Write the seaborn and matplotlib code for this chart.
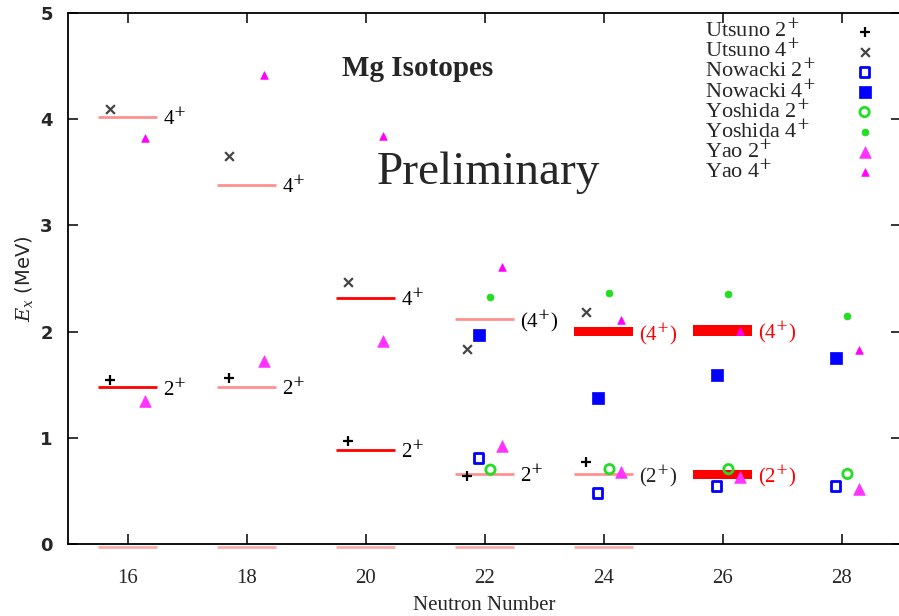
import matplotlib
matplotlib.use("Agg")
import matplotlib.pyplot as plt
import matplotlib.transforms as mtransforms
import seaborn as sns
import numpy as np

# ---------------- data ----------------
neutron_ticks = [16, 18, 20, 22, 24, 26, 28]

# experimental levels
exp_N = [16, 18, 20, 22, 24, 26]
exp_2 = [1.474, 1.483, 0.885, 0.660, 0.660, 0.655]
exp_4 = [4.02, 3.38, 2.32, 2.12, 2.00, 2.01]
exp_2_err = [0, 0, 0, 0, 0, 0.045]
exp_4_err = [0, 0, 0, 0, 0.04, 0.05]
exp_2_labels = ["2$^{+}$", "2$^{+}$", "2$^{+}$", "2$^{+}$", "(2$^{+}$)", "(2$^{+}$)"]
exp_4_labels = ["4$^{+}$", "4$^{+}$", "4$^{+}$", "(4$^{+}$)", "(4$^{+}$)", "(4$^{+}$)"]
ground_N = [16, 18, 20, 22, 24]
ground_E = [0, 0, 0, 0, 0]

# theory
utsuno_N = [16, 18, 20, 22, 24]
utsuno_2 = [1.54, 1.56, 0.97, 0.64, 0.77]
utsuno_4 = [4.10, 3.65, 2.47, 1.84, 2.18]

nowacki_N = [22, 24, 26, 28]
nowacki_2 = [0.81, 0.48, 0.545, 0.545]
nowacki_4 = [1.97, 1.375, 1.59, 1.75]

yoshida_N = [22, 24, 26, 28]
yoshida_2 = [0.70, 0.705, 0.705, 0.66]
yoshida_4 = [2.33, 2.36, 2.35, 2.15]

yao_N = [16, 18, 20, 22, 24, 26, 28]
yao_2 = [1.35, 1.72, 1.91, 0.92, 0.68, 0.63, 0.52]
yao_4 = [3.82, 4.42, 3.84, 2.61, 2.11, 2.01, 1.83]

# ---------------- style ----------------
RED = "#ff0000"
PINK = "#ff9090"
exp_2_col = [RED, PINK, RED, PINK, PINK, RED]
exp_4_col = [PINK, PINK, RED, PINK, RED, RED]
exp_2_txtcol = ["black", "black", "black", "black", "#222222", RED]
exp_4_txtcol = ["black", "black", "black", "black", RED, RED]
offsets = {"Utsuno": -0.3, "Nowacki": -0.1, "Yoshida": 0.1, "Yao": 0.3}

sns.set_theme(style="ticks")
plt.rcParams["font.family"] = ["Liberation Serif", "DejaVu Serif"]
plt.rcParams["mathtext.fontset"] = "dejavuserif"

fig = plt.figure(figsize=(8.99, 6.16), dpi=100)
ax = fig.add_axes([68 / 899, 1 - 544 / 616, (901 - 68) / 899, (544 - 13) / 616])

# experimental levels
half = 0.5
for N, E, err, col in zip(exp_N + exp_N, exp_2 + exp_4, exp_2_err + exp_4_err,
                          exp_2_col + exp_4_col):
    if err > 0:
        ax.bar(N, 2 * err, bottom=E - err, width=2 * half, color=col,
               linewidth=0, zorder=2)
    else:
        ax.hlines(E, N - half, N + half, colors=col, linewidth=2.0, zorder=2)
below = mtransforms.offset_copy(ax.transData, fig=fig, y=-2.5, units="dots")
ax.hlines(ground_E, np.array(ground_N) - half, np.array(ground_N) + half,
          colors="#ffaaaa", linewidth=2.0, zorder=1, clip_on=False, transform=below)

for N, E, lab, tc in zip(exp_N + exp_N, exp_2 + exp_4, exp_2_labels + exp_4_labels,
                         exp_2_txtcol + exp_4_txtcol):
    ax.text(N + 0.6, E - 0.02, lab, color=tc, fontsize=15, ha="left", va="center")

def scat(N, E, off, label, marker, color, size, lw=1.5, hollow=False):
    sns.scatterplot(x=np.array(N) + off, y=E, marker=marker, color=color, s=size,
                    linewidth=lw, edgecolor=color, ax=ax, label=label, zorder=4)
    coll = ax.collections[-1]
    if hollow:
        coll.set_facecolor("none")
        coll.set_edgecolor(color)
        coll.set_linewidth(lw)

scat(utsuno_N, utsuno_2, offsets["Utsuno"], "Utsuno 2$^{+}$", "+", "black", 60, 1.6)
scat(utsuno_N, utsuno_4, offsets["Utsuno"], "Utsuno 4$^{+}$", "x", "#444444", 40, 1.6)
scat(nowacki_N, nowacki_2, offsets["Nowacki"], "Nowacki 2$^{+}$", "s", "#0000ff", 45, 2.0, hollow=True)
scat(nowacki_N, nowacki_4, offsets["Nowacki"], "Nowacki 4$^{+}$", "s", "#0000ff", 80, 0.5)
scat(yoshida_N, yoshida_2, offsets["Yoshida"], "Yoshida 2$^{+}$", "o", "#22dd22", 45, 2.0, hollow=True)
scat(yoshida_N, yoshida_4, offsets["Yoshida"], "Yoshida 4$^{+}$", "o", "#22dd22", 25, 0.5)
scat(yao_N, yao_2, offsets["Yao"], "Yao 2$^{+}$", "^", "#ff33ff", 70, 0.5)
scat(yao_N, yao_4, offsets["Yao"], "Yao 4$^{+}$", "^", "#ff00ff", 30, 0.5)

ax.set_xlim(15, 29)
ax.set_ylim(0, 5)
ax.set_xticks(neutron_ticks)
ax.set_yticks([0, 1, 2, 3, 4, 5])
ax.tick_params(direction="in", length=7, width=1.1, top=True, right=True,
               color="black")
ax.tick_params(axis="x", labelsize=15, pad=18)
ax.tick_params(axis="y", labelsize=13, pad=11)
for lab in ax.get_yticklabels():
    lab.set_fontfamily("DejaVu Sans")
    lab.set_fontweight("bold")
for sp in ax.spines.values():
    sp.set_color("black")
    sp.set_linewidth(1.3)
    sp.set_zorder(3)

ax.set_xlabel("Neutron Number", fontsize=15, labelpad=6)
ax.set_ylabel("$E_x$ (MeV)", fontsize=14, family="DejaVu Sans", labelpad=4)

ax.text(20.88, 4.48, "Mg Isotopes", fontsize=21, fontweight="bold",
        ha="center", va="center")
ax.text(22.06, 3.50, "Preliminary", fontsize=34, ha="center", va="center")

leg = ax.legend(loc="upper left", bbox_to_anchor=(694 / 899, 1 - 8 / 616),
                bbox_transform=fig.transFigure, frameon=False, markerfirst=False,
                fontsize=16, labelspacing=-0.16, handlelength=1.0,
                handletextpad=1.7, borderpad=0.0)

# left-align legend labels while keeping the marker column aligned
fig.canvas.draw()
renderer = fig.canvas.get_renderer()
column = leg._legend_handle_box.get_children()[0]
column.align = "left"
widths = [t.get_window_extent(renderer).width for t in leg.get_texts()]
wmax = max(widths)
for row, w in zip(column.get_children(), widths):
    row.sep = row.sep + (wmax - w) * 72.0 / fig.dpi

fig.savefig("out.png", dpi=100)
